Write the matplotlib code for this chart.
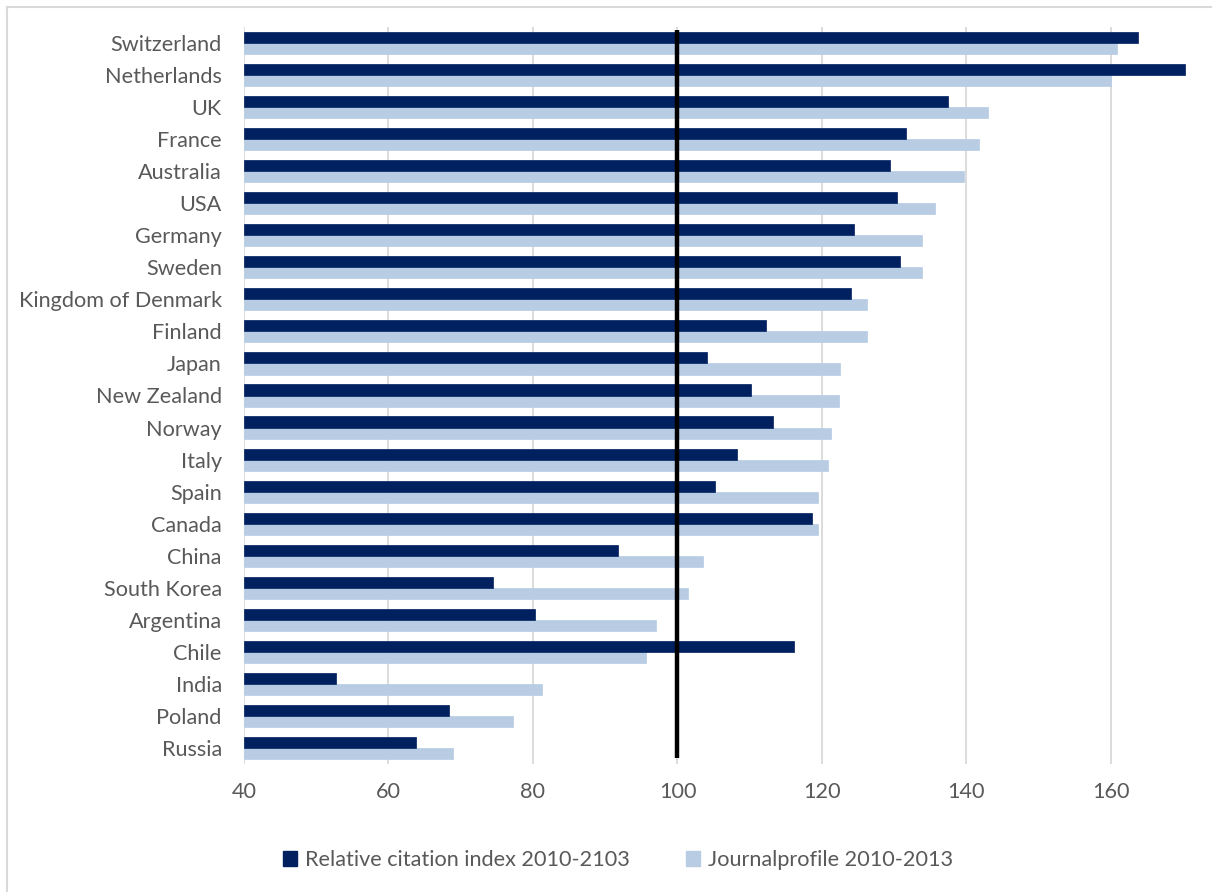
import matplotlib
matplotlib.use("Agg")
import matplotlib.pyplot as plt
from matplotlib.lines import Line2D
from matplotlib.patches import Patch
import numpy as np

countries = ["Switzerland", "Netherlands", "UK", "France", "Australia", "USA",
             "Germany", "Sweden", "Kingdom of Denmark", "Finland", "Japan",
             "New Zealand", "Norway", "Italy", "Spain", "Canada", "China",
             "South Korea", "Argentina", "Chile", "India", "Poland", "Russia"]
citation_index = [163.8, 170.3, 137.4, 131.7, 129.4, 130.4, 124.5, 130.8, 124.0,
                  112.2, 104.1, 110.2, 113.2, 108.3, 105.2, 118.6, 91.8, 74.4,
                  80.3, 116.2, 52.7, 68.4, 63.8]
journal_profile = [160.9, 160.0, 143.0, 141.8, 139.6, 135.6, 133.8, 133.8, 126.3,
                   126.2, 122.5, 122.3, 121.2, 120.8, 119.5, 119.4, 103.6, 101.5,
                   97.1, 95.6, 81.3, 77.3, 68.9]
series_names = ["Relative citation index 2010-2103", "Journalprofile 2010-2013"]
x_ticks = [40, 60, 80, 100, 120, 140, 160]
reference_value = 100

plt.rcParams['font.family'] = ['Lato', 'DejaVu Sans']

dark = "#002060"
light = "#B8CCE4"
text_col = "#595959"

fig = plt.figure(figsize=(12.12, 8.92), dpi=100)
ax = fig.add_axes([244/1212, 1-764/892, (1186-244)/1212, (764-27)/892])

y = np.arange(len(countries))
h = 0.345
base = 40
ax.barh(y - h/2, np.array(citation_index) - base, left=base, height=h,
        color=dark, edgecolor=dark, linewidth=0.5, zorder=3)
ax.barh(y + h/2, np.array(journal_profile) - base, left=base, height=h,
        color=light, edgecolor=light, linewidth=0.5, zorder=2)

ax.vlines(reference_value, -0.5 + 3/32, len(countries) - 0.5 - 6/32,
          color="black", linewidth=3.2, zorder=4)

ax.set_xlim(40, 170.4)
ax.set_ylim(len(countries) - 0.5, -0.5)
ax.set_xticks(x_ticks)
ax.set_xticklabels([str(t) for t in x_ticks])
ax.set_yticks(y)
ax.set_yticklabels(countries)
ax.tick_params(axis='both', length=0, labelsize=15.6, labelcolor=text_col)
ax.tick_params(axis='y', pad=16)
ax.tick_params(axis='x', pad=13)
ax.grid(axis='x', color="#D9D9D9", linewidth=1.3, zorder=0)
ax.set_axisbelow(True)
for s in ax.spines.values():
    s.set_visible(False)

handles = [Patch(facecolor=dark, edgecolor=dark), Patch(facecolor=light, edgecolor=light)]
fig.legend(handles, series_names, loc='center', bbox_to_anchor=(618/1212, 1-860/892),
           ncol=2, frameon=False, fontsize=15.6, labelcolor=text_col,
           handlelength=0.65, handleheight=0.65, handletextpad=0.35, columnspacing=2.6)

# chart border (Excel-style)
fig.add_artist(Line2D([7/1212, 1.0], [1-6.5/892, 1-6.5/892], transform=fig.transFigure,
                      color="#D9D9D9", linewidth=1.5))
fig.add_artist(Line2D([7/1212, 7/1212], [0.0, 1-6.5/892], transform=fig.transFigure,
                      color="#D9D9D9", linewidth=1.5))

fig.savefig("out.png", dpi=100, facecolor="white")
